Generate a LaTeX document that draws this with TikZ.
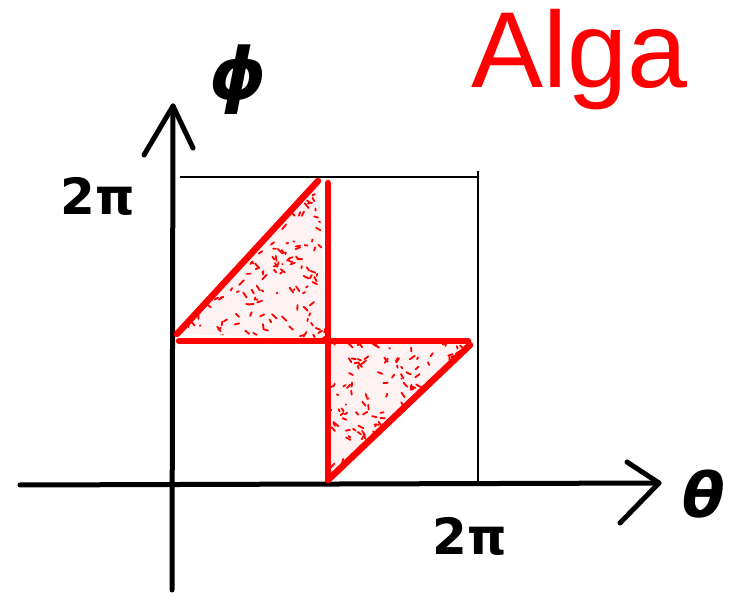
\documentclass[tikz,border=0pt]{standalone}
\usepackage{fontspec}
\newfontfamily\hand{DejaVu Sans}
\newfontfamily\alga{Liberation Sans}
\definecolor{algred}{RGB}{255,0,0}
\begin{document}
\begin{tikzpicture}[x=1pt,y=-1pt,
  axis/.style={line width=5pt,line cap=round,line join=round,black},
  thin/.style={line width=1.3pt,black},
  redline/.style={line width=6.5pt,line cap=round,algred},
  speck/.style={line width=1.8pt,line cap=round,algred},
  lab/.style={font=\hand\bfseries\fontsize{56}{60}\selectfont,inner sep=0pt}]
\useasboundingbox (0,0) rectangle (742,609);
% coordinates
\coordinate (xl) at (20,485);
\coordinate (xr) at (659,483);
\coordinate (xa1) at (627,462);
\coordinate (xa2) at (620,523);
\coordinate (yb) at (172,590);
\coordinate (yt) at (173,106);
\coordinate (ya1) at (144,155);
\coordinate (ya2) at (193,148);
\coordinate (tl) at (180,177);
\coordinate (tr) at (478,177);
\coordinate (br) at (478,485);
\coordinate (A) at (177,334);
\coordinate (B) at (318,181);
\coordinate (C) at (328,183);
\coordinate (D) at (328,480);
\coordinate (E) at (179,341);
\coordinate (F) at (468,341);
\coordinate (G) at (470,345);
\coordinate (M) at (328,338);
% light fill
\fill[algred,opacity=0.05] (A) -- (B) -- (M) -- cycle;
\fill[algred,opacity=0.05] (M) -- (G) -- (D) -- cycle;
% speckles
\pgfmathsetseed{11}
\begin{scope}
\clip (A) -- (B) -- (M) -- cycle;
\foreach \i in {1,...,230}{
  \draw[speck] ({178+150*rnd},{180+160*rnd}) -- ++({rand*5},{rand*5});
}
\end{scope}
\begin{scope}
\clip (M) -- (G) -- (D) -- cycle;
\foreach \i in {1,...,230}{
  \draw[speck] ({328+145*rnd},{340+145*rnd}) -- ++({rand*5},{rand*5});
}
\end{scope}
% thin box lines
\draw[thin] (tl) -- (tr);
\draw[thin] (br) -- ([yshift=6]tr);
% axes
\draw[axis] (xl) -- (xr);
\draw[axis] (xa1) -- (xr) -- (xa2);
\draw[axis] (yb) -- (yt);
\draw[axis] (ya1) -- (yt) -- (ya2);
% red lines
\draw[redline] (A) -- (B);
\draw[redline] (C) -- (D);
\draw[redline] (E) -- (F);
\draw[redline] (G) -- (D);
% labels
\node[lab,font=\hand\bfseries\itshape\fontsize{72}{76}\selectfont] (phi) at (238,80) {ϕ};
\node[lab,font=\hand\bfseries\itshape\fontsize{62}{66}\selectfont] (theta) at (704,494) {θ};
\node[lab,font=\hand\bfseries\fontsize{50}{54}\selectfont] (ty) at (98,196) {2π};
\node[lab,font=\hand\bfseries\fontsize{50}{54}\selectfont] (tx) at (470,536) {2π};
\node[inner sep=0pt,text=algred,font=\alga\fontsize{108}{112}\selectfont] (alga) at (580,60) {Alga};
\end{tikzpicture}
\end{document}
